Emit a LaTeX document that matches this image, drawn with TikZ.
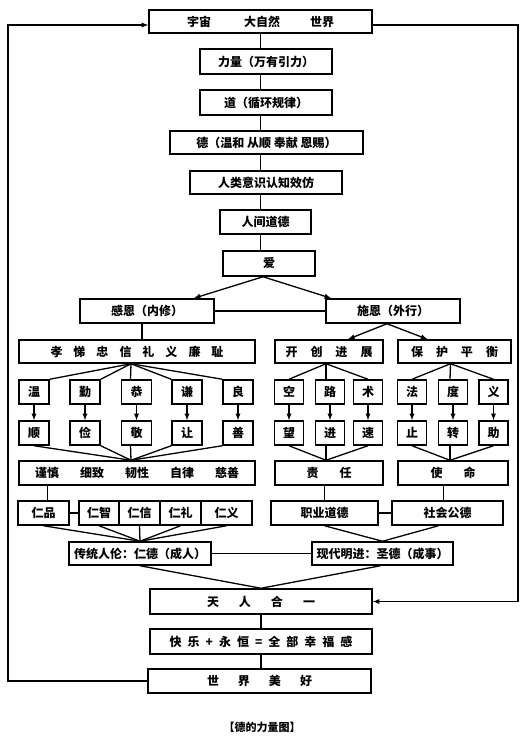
\documentclass[tikz,border=0pt]{standalone}
\usepackage{fontspec}
\setmainfont{Noto Sans CJK SC}
\begin{document}
\begin{tikzpicture}[x=1pt, y=-1pt, line width=1.3pt,
  box/.style={draw, line width=1.5pt, fill=white, inner sep=0pt, minimum height=24pt, font=\fontsize{12}{14}\selectfont\bfseries},
  cell/.style={box, minimum width=29pt}]
  \useasboundingbox (0,0) rectangle (530,738);
  % main column
  \node[box, minimum width=223pt, minimum height=23pt] (top) at (260.5,21.5) {宇宙\hspace{33pt}大自然\hspace{30pt}世界};
  \node[box, minimum width=132pt, minimum height=25pt] (force) at (266,61.5) {力量（万有引力）};
  \node[box, minimum width=132pt, minimum height=25pt] (dao) at (266,102.5) {道（循环规律）};
  \node[box, minimum width=193pt, minimum height=23pt] (de) at (266.5,142.5) {德（温和 从顺 奉献 恩赐）};
  \node[box, minimum width=152pt, minimum height=23pt] (human) at (266,182.5) {人类意识认知效仿};
  \node[box, minimum width=91pt] (moral) at (265.5,222) {人间道德};
  \node[box, minimum width=92pt, minimum height=25pt] (love) at (269,263.5) {爱};
  \node[box, minimum width=134pt] (gan) at (147,311) {感恩（内修）};
  \node[box, minimum width=134pt] (shi) at (393,311) {施恩（外行）};
  \node[box, minimum width=236pt, minimum height=23pt] (xiaoti) at (137,351.5) {孝\hspace{11pt}悌\hspace{11pt}忠\hspace{11pt}信\hspace{11pt}礼\hspace{11pt}义\hspace{11pt}廉\hspace{11pt}耻};
  \node[box, minimum width=108pt, minimum height=23pt] (kai) at (329,351.5) {开\hspace{13pt}创\hspace{13pt}进\hspace{13pt}展};
  \node[box, minimum width=113pt, minimum height=23pt] (bao) at (454.5,351.5) {保\hspace{13pt}护\hspace{13pt}平\hspace{13pt}衡};
  % single characters, left
  \node[cell, minimum width=30pt] (wen) at (34,392) {温};
  \node[cell, minimum width=30pt] (qin) at (85,392) {勤};
  \node[cell, minimum width=30pt] (gong) at (136.5,392) {恭};
  \node[cell, minimum width=30pt] (qian) at (187,392) {谦};
  \node[cell, minimum width=30pt] (liang) at (238,392) {良};
  \node[cell, minimum width=30pt] (shun) at (34,433) {顺};
  \node[cell, minimum width=30pt] (jian) at (85,433) {俭};
  \node[cell, minimum width=30pt] (jing) at (136.5,433) {敬};
  \node[cell, minimum width=30pt] (rang) at (187,433) {让};
  \node[cell, minimum width=30pt] (shan) at (238,433) {善};
  % single characters, right
  \node[cell] (kong) at (289,392) {空};
  \node[cell] (lu) at (330,392) {路};
  \node[cell] (shu) at (368,392) {术};
  \node[cell] (fa) at (412,392) {法};
  \node[cell] (du) at (453,392) {度};
  \node[cell] (yi) at (493.5,392) {义};
  \node[cell] (wang) at (289,433) {望};
  \node[cell] (jin) at (330,433) {进};
  \node[cell] (su) at (368,433) {速};
  \node[cell] (zhi) at (412,433) {止};
  \node[cell] (zhuan) at (453,433) {转};
  \node[cell] (zhu) at (493.5,433) {助};
  \node[box, minimum width=236pt] (virtues) at (137,473) {谨慎\hspace{21pt}细致\hspace{21pt}韧性\hspace{21pt}自律\hspace{21pt}慈善};
  \node[box, minimum width=108pt] (zeren) at (329,473) {责\hspace{21pt}任};
  \node[box, minimum width=110pt] (shiming) at (453,473) {使\hspace{21pt}命};
  % ren row
  \node[box, minimum width=51pt] (renpin) at (43.5,513) {仁品};
  \node[box, minimum width=40pt] (renzhi) at (99,513) {仁智};
  \node[box, minimum width=41pt] (renxin) at (139.5,513) {仁信};
  \node[box, minimum width=41pt] (renli) at (180.5,513) {仁礼};
  \node[box, minimum width=51pt] (renyi) at (226.5,513) {仁义};
  \node[box, minimum width=107pt] (zhiye) at (324.5,513) {职业道德};
  \node[box, minimum width=111pt] (shehui) at (447.5,513) {社会公德};
  \node[box, minimum width=142pt, minimum height=23pt] (chuantong) at (140,553.5) {传统人伦：仁德（成人）};
  \node[box, minimum width=141pt, minimum height=23pt] (xiandai) at (382.5,553.5) {现代明进：圣德（成事）};
  \node[box, minimum width=222pt, minimum height=25pt] (tianren) at (261,601.5) {天\hspace{20pt}人\hspace{20pt}合\hspace{20pt}一};
  \node[box, minimum width=222pt, minimum height=25pt] (kuaile) at (261,641.5) {快\hspace{6pt}乐\hspace{6pt}+\hspace{6pt}永\hspace{6pt}恒\hspace{6pt}=\hspace{6pt}全\hspace{6pt}部\hspace{6pt}幸\hspace{6pt}福\hspace{6pt}感};
  \node[box, minimum width=223pt] (meihao) at (259.5,681) {世\hspace{19pt}界\hspace{19pt}美\hspace{19pt}好};
  \node[font=\fontsize{11}{13}\selectfont\bfseries] (caption) at (262,727) {【德的力量图】};
  % spine
  \draw (top.south) -- (top.south |- force.north);
  \draw (top.south |- force.south) -- (top.south |- dao.north);
  \draw (top.south |- dao.south) -- (top.south |- de.north);
  \draw (top.south |- de.south) -- (top.south |- human.north);
  \draw (top.south |- human.south) -- (top.south |- moral.north);
  \draw (top.south |- moral.south) -- (top.south |- love.north);
  \draw[-latex] ([xshift=-6pt]love.south) -- ([xshift=-21pt]gan.north east);
  \draw[-latex] ([xshift=-6pt]love.south) -- ([xshift=6pt]shi.north west);
  \draw (gan.east) -- (shi.west);
  \draw ([xshift=-5pt]gan.south) -- ([xshift=-5pt]gan.south |- xiaoti.north);
  \draw[-latex] ([xshift=-6pt]shi.south) -- ([xshift=19pt]kai.north);
  \draw[-latex] ([xshift=-6pt]shi.south) -- ([xshift=-27pt]bao.north);
  % left block
  \draw ([xshift=-6pt]xiaoti.south) -- (wen.north east);
  \draw ([xshift=-6pt]xiaoti.south) -- (qin.north east);
  \draw ([xshift=-6pt]xiaoti.south) -- ([xshift=-6pt]gong.north);
  \draw ([xshift=-6pt]xiaoti.south) -- (qian.north west);
  \draw ([xshift=-6pt]xiaoti.south) -- (liang.north west);
  \draw[-latex] (wen) -- (shun);
  \draw[-latex] (qin) -- (jian);
  \draw[-latex] (gong) -- (jing);
  \draw[-latex] (qian) -- (rang);
  \draw[-latex] (liang) -- (shan);
  \draw (shun.south) -- ([xshift=-6pt]virtues.north);
  \draw (jian.south east) -- ([xshift=-6pt]virtues.north);
  \draw ([xshift=-6pt]jing.south) -- ([xshift=-6pt]virtues.north);
  \draw (rang.south west) -- ([xshift=-6pt]virtues.north);
  \draw (shan.south west) -- ([xshift=-6pt]virtues.north);
  % right blocks
  \draw ([xshift=-3pt]kai.south) -- (kong.north);
  \draw ([xshift=-3pt]kai.south) -- ([xshift=-4pt]lu.north);
  \draw ([xshift=-3pt]kai.south) -- (shu.north);
  \draw ([xshift=-4pt]bao.south) -- (fa.north);
  \draw ([xshift=-4pt]bao.south) -- ([xshift=-3pt]du.north);
  \draw ([xshift=-4pt]bao.south) -- (yi.north);
  \draw[-latex] (kong) -- (wang);
  \draw[-latex] (lu) -- (jin);
  \draw[-latex] (shu) -- (su);
  \draw[-latex] (fa) -- (zhi);
  \draw[-latex] (du) -- (zhuan);
  \draw[-latex] (yi) -- (zhu);
  \draw (wang.south) -- ([xshift=-3pt]zeren.north);
  \draw ([xshift=-4pt]jin.south) -- ([xshift=-3pt]zeren.north);
  \draw (su.south) -- ([xshift=-3pt]zeren.north);
  \draw (zhi.south) -- ([xshift=-3pt]shiming.north);
  \draw ([xshift=-3pt]zhuan.south) -- ([xshift=-3pt]shiming.north);
  \draw (zhu.south) -- ([xshift=-3pt]shiming.north);
  % lower part
  \draw ([xshift=4pt]renpin.north) -- ([xshift=4pt]renpin.north |- virtues.south);
  \draw (renpin.east) -- (renzhi.west);
  \draw (zhiye.north) -- (zhiye.north |- zeren.south);
  \draw ([xshift=-4pt]shehui.north) -- ([xshift=-4pt]shehui.north |- shiming.south);
  \draw (zhiye.east) -- (shehui.west);
  \draw (renpin.south) -- (chuantong.north);
  \draw (renzhi.south) -- (chuantong.north);
  \draw (renxin.south) -- (chuantong.north);
  \draw (renli.south) -- (chuantong.north);
  \draw (renyi.south) -- (chuantong.north);
  \draw (zhiye.south) -- (xiandai.north);
  \draw ([xshift=-9pt]shehui.south) -- (xiandai.north);
  \draw (chuantong.east) -- (xiandai.west);
  \draw (chuantong.south) -- (tianren.north);
  \draw ([xshift=-2pt]xiandai.south) -- (tianren.north);
  \draw (tianren.south) -- (kuaile.north);
  \draw (kuaile.south) -- (kuaile.south |- meihao.north);
  % outer loop
  \coordinate (L) at (8,25);
  \coordinate (R) at (518,25);
  \draw[-latex] (meihao.west) -| (L) -- (top.west |- L);
  \draw[-latex] (top.east |- R) -- (R) |- (tianren.east);
\end{tikzpicture}
\end{document}
